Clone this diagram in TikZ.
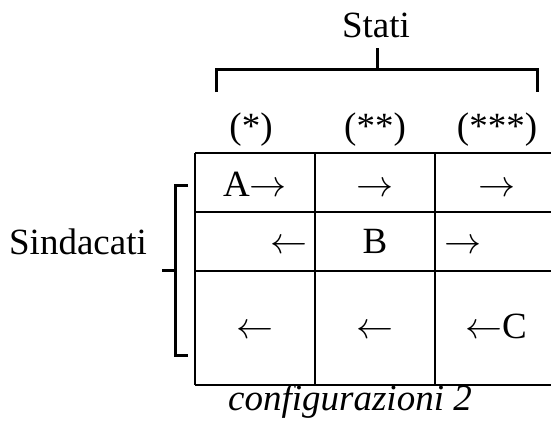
\documentclass[tikz,border=0pt]{standalone}
\usepackage{graphicx}
\usepackage{fontspec}
\setmainfont{Liberation Serif}
\newcommand{\ra}{\scalebox{3.7}{\normalsize$\rightarrow$}}
\newcommand{\la}{\scalebox{3.7}{\normalsize$\leftarrow$}}
\begin{document}
\begin{tikzpicture}[x=1pt,y=-1pt,
  txt/.style={inner sep=0pt,anchor=base,font=\fontsize{37}{40}\selectfont},
  grid/.style={line width=1.2pt},
  brk/.style={line width=3pt}]
\useasboundingbox (0,0) rectangle (551,424);
% table grid
\coordinate (tl) at (195,153);
\coordinate (bl) at (195,385);
\coordinate (tr) at (551,153);
\coordinate (br) at (551,385);
\coordinate (c1t) at (315,153);
\coordinate (c1b) at (315,385);
\coordinate (c2t) at (435,153);
\coordinate (c2b) at (435,385);
\coordinate (r1l) at (195,212);
\coordinate (r1r) at (551,212);
\coordinate (r2l) at (195,271);
\coordinate (r2r) at (551,271);
\draw[grid] (tl) -- (tr);
\draw[grid] (bl) -- (br);
\draw[grid] (tl) -- (bl);
\draw[grid] (c1t) -- (c1b);
\draw[grid] (c2t) -- (c2b);
\draw[grid] (r1l) -- (r1r);
\draw[grid] (r2l) -- (r2r);
% top bracket
\coordinate (tb1) at (216,92);
\coordinate (tb2) at (216,69);
\coordinate (tb3) at (537,69);
\coordinate (tb4) at (537,92);
\coordinate (tm1) at (377,69);
\coordinate (tm2) at (377,48);
\draw[brk] (tb1) -- (tb2) -- (tb3) -- (tb4);
\draw[brk] (tm1) -- (tm2);
% left bracket
\coordinate (lb1) at (188,185);
\coordinate (lb2) at (175,185);
\coordinate (lb3) at (175,355);
\coordinate (lb4) at (188,355);
\coordinate (lm1) at (175,270);
\coordinate (lm2) at (162,270);
\draw[brk] (lb1) -- (lb2) -- (lb3) -- (lb4);
\draw[brk] (lm1) -- (lm2);
% labels
\node[txt] (stati) at (376,37) {Stati};
\node[txt] (h1) at (251,138) {(*)};
\node[txt] (h2) at (375,138) {(**)};
\node[txt] (h3) at (497,138) {(***)};
\node[txt] (sind) at (78,254) {Sindacati};
% cells
\node[txt] (a11) at (255,196) {A\ra};
\node[txt] (a12) at (375,196) {\ra};
\node[txt] (a13) at (497,196) {\ra};
\node[txt,anchor=base east] (a21) at (308,253) {\la};
\node[txt] (a22) at (375,253) {B};
\node[txt,anchor=base west] (a23) at (444,253) {\ra};
\node[txt] (a31) at (255,338) {\la};
\node[txt] (a32) at (375,338) {\la};
\node[txt] (a33) at (496,338) {\la C};
\node[txt,font=\fontsize{37}{40}\selectfont\itshape] (cap) at (350,410) {configurazioni 2};
\end{tikzpicture}
\end{document}
